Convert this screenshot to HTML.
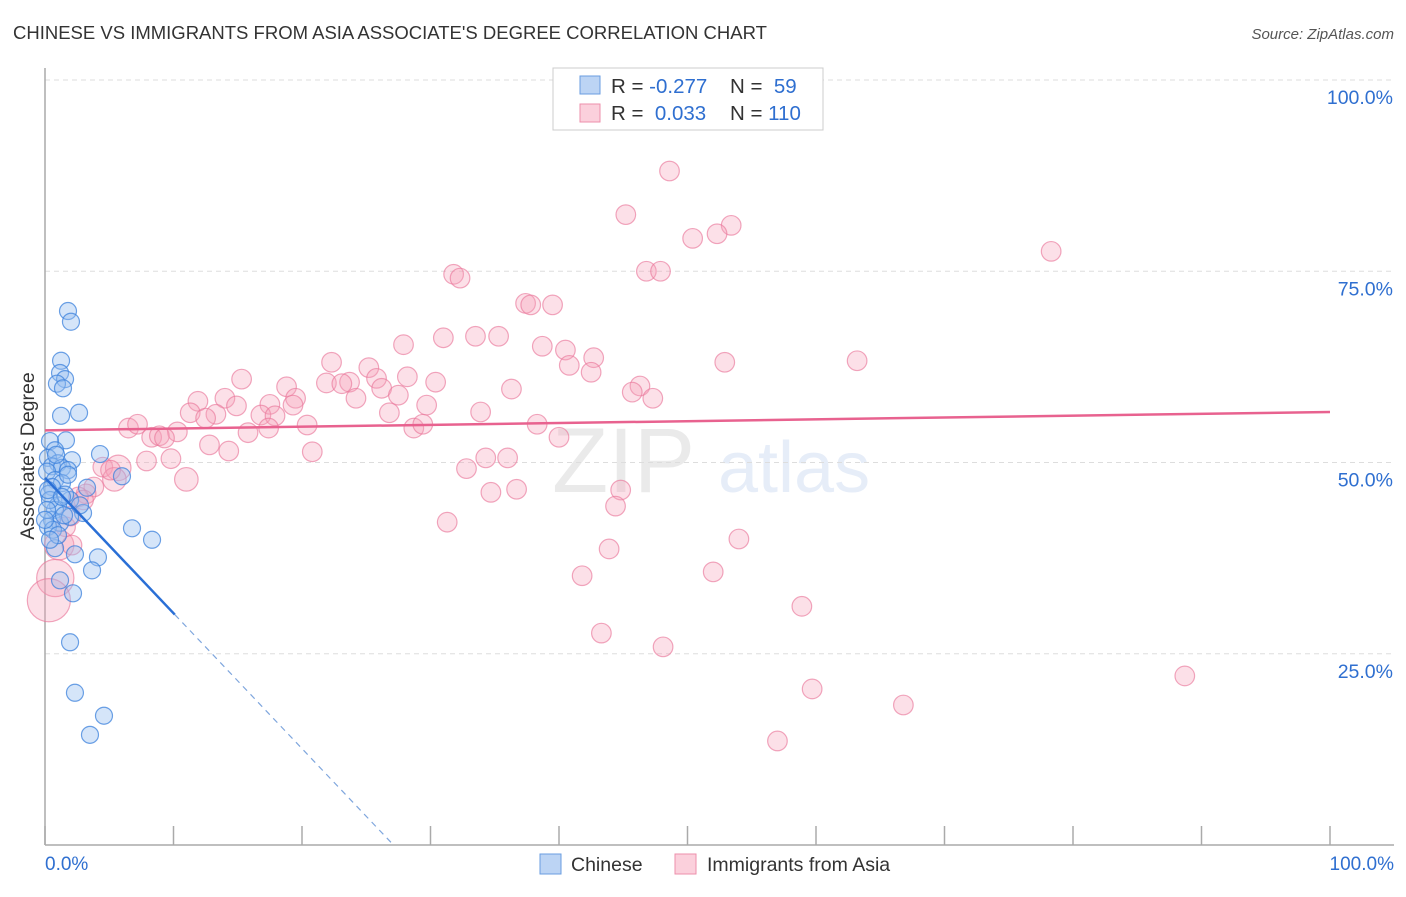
<!DOCTYPE html>
<html><head><meta charset="utf-8"><style>
body{margin:0;background:#fff;font-family:"Liberation Sans",sans-serif}
svg text{font-family:"Liberation Sans",sans-serif}
</style></head><body>
<svg id="chart" width="1406" height="892" viewBox="0 0 1406 892" xmlns="http://www.w3.org/2000/svg">
<text x="13" y="39" font-size="18.5" fill="#333">CHINESE VS IMMIGRANTS FROM ASIA ASSOCIATE'S DEGREE CORRELATION CHART</text>
<text x="1394" y="39" font-size="15" fill="#555" text-anchor="end" font-style="italic">Source: ZipAtlas.com</text>
<g opacity="0.13">
<text x="552" y="492" font-size="92" fill="#666" font-family="Liberation Serif">ZIP</text>
<text x="718" y="492" font-size="72" fill="#4a7bd0">atlas</text>
</g>
<g id="grid"></g>
<g id="axes"></g>
<g id="pink"></g>
<g id="blue"></g>
<g id="trends"></g>
<g>
<rect x="553" y="68" width="270" height="62" fill="#fff" stroke="#ccc"/>
<rect x="580" y="76" width="20" height="18" fill="#bcd4f4" stroke="#6a9de0"/>
<rect x="580" y="104" width="20" height="18" fill="#fbd0dc" stroke="#ee8fab"/>
<text x="611" y="93" font-size="20.5" fill="#333">R = <tspan fill="#2f6fd0">-0.277</tspan></text>
<text x="730" y="93" font-size="20.5" fill="#333">N = <tspan fill="#2f6fd0">&#160;59</tspan></text>
<text x="611" y="120" font-size="20.5" fill="#333">R = <tspan fill="#2f6fd0">&#160;0.033</tspan></text>
<text x="730" y="120" font-size="20.5" fill="#333">N = <tspan fill="#2f6fd0">110</tspan></text>
</g>
<text transform="translate(34,456) rotate(-90)" font-size="19.5" fill="#333" text-anchor="middle">Associate's Degree</text>
<text x="45" y="870" font-size="19" fill="#2f6fd0">0.0%</text>
<text x="1394" y="870" font-size="19" fill="#2f6fd0" text-anchor="end">100.0%</text>
<g>
<rect x="540" y="854" width="21" height="20" fill="#bcd4f4" stroke="#6a9de0"/>
<text x="571" y="871" font-size="19.5" fill="#333">Chinese</text>
<rect x="675" y="854" width="21" height="20" fill="#fbd0dc" stroke="#ee8fab"/>
<text x="707" y="871" font-size="19.5" fill="#333">Immigrants from Asia</text>
</g>
</svg>
<script>
const yTicks=[25,50,75,100];
const yTickLabels=["25.0%","50.0%","75.0%","100.0%"];
const xTicks=[0,10,20,30,40,50,60,70,80,90,100];
const blueX=[1.79,2.02,1.25,1.17,1.56,0.93,1.40,1.25,2.65,1.63,0.39,0.78,0.23,1.01,2.10,4.28,0.54,1.32,1.79,0.16,5.99,0.78,1.32,0.54,0.31,3.27,1.95,1.01,0.78,2.96,0.54,1.17,0.23,1.95,6.77,8.33,0.78,2.33,4.12,3.66,1.17,2.18,1.95,2.33,4.59,3.50,0.39,0.16,0.62,1.56,2.72,1.01,0,0.39,1.48,1.79,0.86,0.23,1.32];
const blueY=[69.8,68.4,63.3,61.7,60.9,60.3,59.7,56.1,56.5,52.9,52.8,51.6,50.6,49.9,50.3,51.1,49.5,49.3,49.0,48.8,48.2,47.7,47.3,46.8,45.9,46.7,45.1,44.4,43.8,43.4,42.5,42.1,41.6,42.9,41.4,39.9,38.8,38.0,37.6,35.9,34.6,32.9,26.5,19.9,16.9,14.4,45.1,43.8,41.2,45.8,44.4,40.5,42.5,39.9,43.1,48.4,51.0,46.4,45.5];
const pinkX=[48.6,45.2,53.4,52.3,50.4,78.3,31.8,32.3,46.8,47.9,37.4,37.8,39.5,31.0,33.5,35.3,27.9,38.7,40.5,42.7,40.8,22.3,63.2,52.9,25.2,42.5,15.3,23.7,25.8,28.2,30.4,18.8,21.9,23.1,26.2,36.3,46.3,45.7,47.3,11.9,14.0,19.5,24.2,27.5,29.7,14.9,17.5,11.3,13.3,16.8,19.3,26.8,33.9,12.5,17.9,6.5,7.2,20.4,17.4,10.3,8.3,8.9,9.3,15.8,28.7,29.4,38.3,40.0,12.8,14.3,20.8,34.3,36.0,9.8,7.9,4.5,5.7,5.4,11.0,32.8,34.7,36.7,44.8,3.8,3.2,2.6,31.3,44.4,2.0,1.6,1.1,54.0,43.9,41.8,52.0,0.8,0.3,58.9,43.3,48.1,59.7,88.7,66.8,57.0,3.0,2.1,5.1];
const pinkY=[88.1,82.4,81.0,79.9,79.3,77.6,74.6,74.1,75.0,75.0,70.8,70.6,70.6,66.3,66.5,66.5,65.4,65.2,64.7,63.7,62.7,63.1,63.3,63.1,62.4,61.8,60.9,60.5,61.0,61.2,60.5,59.9,60.4,60.3,59.7,59.6,60.0,59.2,58.4,58.0,58.4,58.4,58.4,58.8,57.5,57.4,57.6,56.5,56.3,56.2,57.5,56.5,56.6,55.8,56.1,54.5,55.0,54.9,54.5,54.0,53.3,53.5,53.2,53.9,54.5,55.0,55.0,53.3,52.3,51.5,51.4,50.6,50.6,50.5,50.2,49.4,49.3,47.8,47.8,49.2,46.1,46.5,46.4,46.8,45.9,45.5,42.2,44.3,43.0,41.6,39.2,40.0,38.7,35.2,35.7,34.9,32.0,31.2,27.7,25.9,20.4,22.1,18.3,13.6,45.1,39.2,49.0];
const pinkWeight={76:1.3,77:1.2,78:1.2,90:1.5,95:1.9,96:2.2};
const pinkTrend=[54.2,56.6];
const blueTrend=[48.0,-1.77];

const X=v=>45+v*12.85, Y=v=>845-v*7.65;
const NS="http://www.w3.org/2000/svg";
function mk(tag,attrs,parent){const e=document.createElementNS(NS,tag);for(const k in attrs)e.setAttribute(k,attrs[k]);parent.appendChild(e);return e;}
const grid=document.getElementById('grid'),axes=document.getElementById('axes');
yTicks.forEach((t,i)=>{
 const l=mk('line',{x1:45,x2:1394,y1:Y(t),y2:Y(t),stroke:'#ddd','stroke-dasharray':'5,4'},grid);
 
 
 const tx=mk('text',{x:1393,y:Y(t)+24,'font-size':19.5,fill:'#2f6fd0','text-anchor':'end'},grid);
 tx.textContent=yTickLabels[i];
 
 
});
const ya=mk('line',{x1:45,x2:45,y1:68,y2:845,stroke:'#aaa','stroke-width':1.5},axes);


const xa=mk('line',{x1:45,x2:1394,y1:845,y2:845,stroke:'#aaa','stroke-width':1.5},axes);


xTicks.forEach(t=>{
 const l=mk('line',{x1:X(t),x2:X(t),y1:826,y2:845,stroke:'#aaa','stroke-width':1.5},axes);
 
 
});
const pg=document.getElementById('pink');
pinkX.forEach((x,i)=>{
 const c=mk('circle',{cx:X(x),cy:Y(pinkY[i]),r:9.8*(pinkWeight[i]||1),fill:'rgba(246,160,186,0.33)',stroke:'rgba(234,120,155,0.65)','stroke-width':1.2},pg);
 
 
});
const bg=document.getElementById('blue');
blueX.forEach((x,i)=>{
 const c=mk('circle',{cx:X(x),cy:Y(blueY[i]),r:8.5,fill:'rgba(150,190,240,0.4)',stroke:'rgba(60,130,220,0.75)','stroke-width':1.2},bg);
 
 
});
const tg=document.getElementById('trends');
const pl=mk('line',{x1:X(0),y1:Y(pinkTrend[0]),x2:X(100),y2:Y(pinkTrend[1]),stroke:'#e8628f','stroke-width':2.5},tg);


const bx=10.1, bz=-blueTrend[0]/blueTrend[1];
const bl=mk('line',{x1:X(0),y1:Y(blueTrend[0]),x2:X(bx),y2:Y(blueTrend[0]+blueTrend[1]*bx),stroke:'#2a6fd6','stroke-width':2.5},tg);


const bd=mk('line',{x1:X(bx),y1:Y(blueTrend[0]+blueTrend[1]*bx),x2:X(bz),y2:Y(0),stroke:'#7fa6dd','stroke-width':1.2,'stroke-dasharray':'6,5'},tg);


</script>
</body></html>
